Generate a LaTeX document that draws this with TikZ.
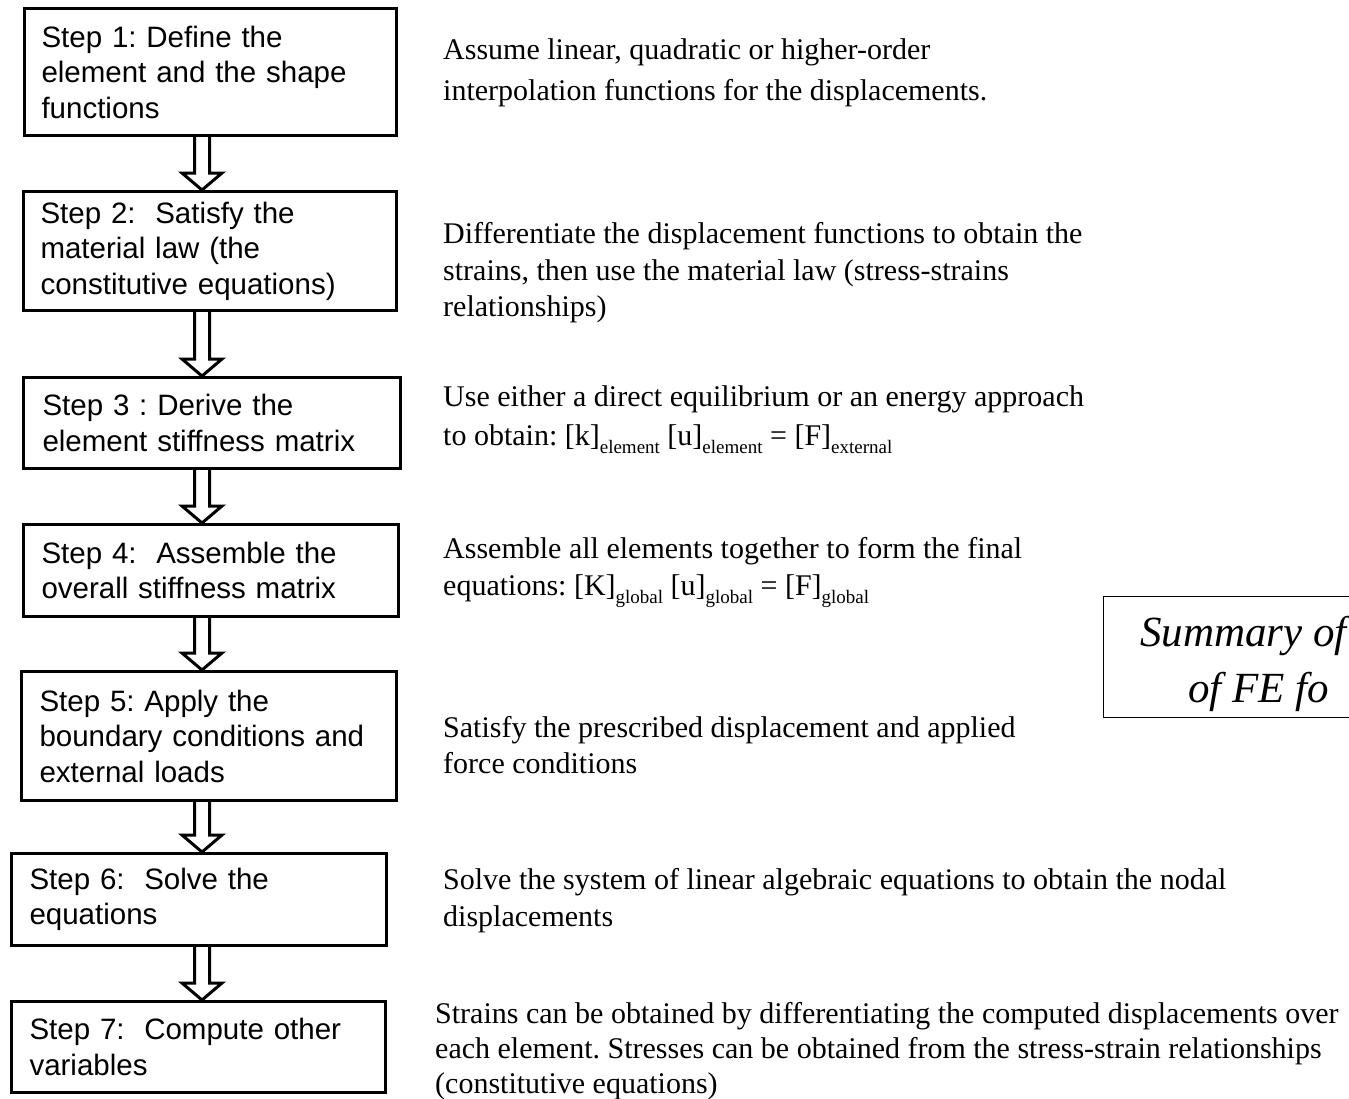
\documentclass[tikz,border=0pt]{standalone}
\usepackage{fontspec}
\setmainfont{Liberation Serif}
\newfontfamily\arialfont{Liberation Sans}
\usetikzlibrary{calc}
\newcommand\sbs[1]{\raisebox{-0.28em}{\fontsize{19}{19}\selectfont #1}}
\frenchspacing
\begin{document}
\frenchspacing
\begin{tikzpicture}[x=1pt,y=-1pt,
  stepbox/.style={draw, line width=3pt, align=left, inner xsep=17pt, inner ysep=0pt,
    font=\arialfont\fontsize{29.5}{35.5}\selectfont},
  desc/.style={anchor=base west, inner sep=0pt, font=\fontsize{30}{36}\selectfont},
  sumtext/.style={anchor=base west, inner sep=0pt, font=\itshape\fontsize{43}{50}\selectfont},
  hollow/.style={draw, line width=3pt, line join=miter}]
\useasboundingbox (0,0) rectangle (1349,1098);
\clip (0,0) rectangle (1349,1098);
\coordinate (ax) at (202,0);
% step boxes
\node[stepbox, minimum width=372pt, minimum height=127pt, text width=338pt] (b1) at (210.5,72)
  {Step 1: Define the\\element and the shape\\functions};
\node[stepbox, minimum width=373pt, minimum height=119pt, text width=339pt] (b2) at (210,251)
  {Step 2:\ \ Satisfy the\\material law (the\\constitutive equations)};
\node[stepbox, minimum width=373pt, minimum height=91pt, text width=339pt, inner xsep=19pt] (b3) at (212,423)
  {Step 3 : Derive the\\element stiffness matrix};
\node[stepbox, minimum width=373pt, minimum height=92pt, text width=339pt, inner xsep=18pt] (b4) at (211,570.5)
  {Step 4:\ \ Assemble the\\overall stiffness matrix};
\node[stepbox, minimum width=373pt, minimum height=129pt, text width=339pt, inner xsep=18pt] (b5) at (209,736)
  {Step 5: Apply the\\boundary conditions and\\external loads};
\node[stepbox, minimum width=375pt, minimum height=92pt, text width=339pt, inner xsep=18pt] (b6) at (199,899.5)
  {Step 6:\ \ Solve the\\equations};
\node[stepbox, minimum width=374pt, minimum height=91pt, text width=338pt, inner xsep=18pt] (b7) at (198.5,1047)
  {Step 7:\ \ Compute other\\variables};
% hollow arrows
\foreach \a/\b in {b1/b2,b2/b3,b3/b4,b4/b5,b5/b6,b6/b7}{
  \draw[hollow] ($(\a.south -| ax)+(-7.5,0)$) -- ($(\b.north -| ax)+(-7.5,-17)$)
    -- ($(\b.north -| ax)+(-20,-17)$) -- (\b.north -| ax) -- ($(\b.north -| ax)+(20,-17)$)
    -- ($(\b.north -| ax)+(7.5,-17)$) -- ($(\a.south -| ax)+(7.5,0)$);
}
% descriptions
\node[desc] (d1a) at (443,59) {Assume linear, quadratic or higher-order};
\node[desc] (d1b) at (443,100) {interpolation functions for the displacements.};
\node[desc] (d2a) at (443,243) {Differentiate the displacement functions to obtain the};
\node[desc] (d2b) at (443,280) {strains, then use the material law (stress-strains};
\node[desc] (d2c) at (443,316) {relationships)};
\node[desc] (d3a) at (443,406) {Use either a direct equilibrium or an energy approach};
\node[desc] (d3b) at (443,445) {to obtain: [k]\sbs{element} [u]\sbs{element} = [F]\sbs{external}};
\node[desc] (d4a) at (443,558) {Assemble all elements together to form the final};
\node[desc] (d4b) at (443,595) {equations: [K]\sbs{global} [u]\sbs{global} = [F]\sbs{global}};
\node[desc] (d5a) at (443,737) {Satisfy the prescribed displacement and applied};
\node[desc] (d5b) at (443,773) {force conditions};
\node[desc] (d6a) at (443,889) {Solve the system of linear algebraic equations to obtain the nodal};
\node[desc] (d6b) at (443,926) {displacements};
\node[desc] (d7a) at (435,1023) {Strains can be obtained by differentiating the computed displacements over};
\node[desc] (d7b) at (435,1058) {each element. Stresses can be obtained from the stress-strain relationships};
\node[desc] (d7c) at (435,1093) {(constitutive equations)};
% summary box
\node[draw, line width=1.5pt, minimum width=260pt, minimum height=121pt, anchor=north west, inner sep=0pt] (sum) at (1102.5,595.5) {};
\node[sumtext] (s1) at (1140,646) {Summary of};
\node[sumtext] (s2) at (1188,702) {of FE fo};
\end{tikzpicture}
\end{document}
